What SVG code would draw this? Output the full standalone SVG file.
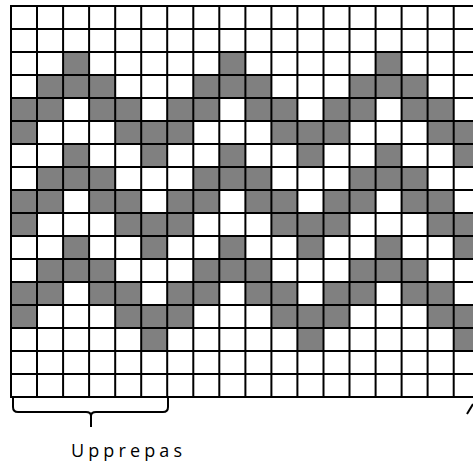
<svg xmlns="http://www.w3.org/2000/svg" xmlns:xlink="http://www.w3.org/1999/xlink" width="473" height="463" viewBox="0 0 473 463">
<style>
.g{fill:#808080}
.ln{stroke:#000;stroke-width:2;fill:none}
.br{stroke:#000;stroke-width:2;fill:none;stroke-linejoin:round}
.t{font-family:"Open Sans","DejaVu Sans",sans-serif;font-size:18px;fill:#000}
</style>
<defs>
<rect id="c" class="g" width="26.04" height="23"/>
<g id="rA"><use xlink:href="#c" x="37"/><use xlink:href="#c" x="63.1"/><use xlink:href="#c" x="89.1"/><use xlink:href="#c" x="193.3"/><use xlink:href="#c" x="219.3"/><use xlink:href="#c" x="245.4"/><use xlink:href="#c" x="349.5"/><use xlink:href="#c" x="375.6"/><use xlink:href="#c" x="401.6"/></g>
<g id="rB"><use xlink:href="#c" x="11"/><use xlink:href="#c" x="37"/><use xlink:href="#c" x="89.1"/><use xlink:href="#c" x="115.2"/><use xlink:href="#c" x="167.2"/><use xlink:href="#c" x="193.3"/><use xlink:href="#c" x="245.4"/><use xlink:href="#c" x="271.4"/><use xlink:href="#c" x="323.5"/><use xlink:href="#c" x="349.5"/><use xlink:href="#c" x="401.6"/><use xlink:href="#c" x="427.6"/></g>
<g id="rC"><use xlink:href="#c" x="11"/><use xlink:href="#c" x="115.2"/><use xlink:href="#c" x="141.2"/><use xlink:href="#c" x="167.2"/><use xlink:href="#c" x="271.4"/><use xlink:href="#c" x="297.4"/><use xlink:href="#c" x="323.5"/><use xlink:href="#c" x="427.6"/><use xlink:href="#c" x="453.7"/></g>
<g id="rD"><use xlink:href="#c" x="63.1"/><use xlink:href="#c" x="141.2"/><use xlink:href="#c" x="219.3"/><use xlink:href="#c" x="297.4"/><use xlink:href="#c" x="375.6"/><use xlink:href="#c" x="453.7"/></g>
</defs>
<g id="cells">
<use xlink:href="#c" x="63.1" y="52"/><use xlink:href="#c" x="219.3" y="52"/><use xlink:href="#c" x="375.6" y="52"/>
<use xlink:href="#rA" y="75"/>
<use xlink:href="#rB" y="98"/>
<use xlink:href="#rC" y="121"/>
<use xlink:href="#rD" y="144"/>
<use xlink:href="#rA" y="167"/>
<use xlink:href="#rB" y="190"/>
<use xlink:href="#rC" y="213"/>
<use xlink:href="#rD" y="236"/>
<use xlink:href="#rA" y="259"/>
<use xlink:href="#rB" y="282"/>
<use xlink:href="#rC" y="305"/>
<use xlink:href="#c" x="141.2" y="328"/><use xlink:href="#c" x="297.4" y="328"/><use xlink:href="#c" x="453.7" y="328"/>
</g>
<g id="grid">
<path class="ln" d="M11,6V397M37,6V397M63.1,6V397M89.1,6V397M115.2,6V397M141.2,6V397M167.2,6V397M193.3,6V397M219.3,6V397M245.4,6V397M271.4,6V397M297.4,6V397M323.5,6V397M349.5,6V397M375.6,6V397M401.6,6V397M427.6,6V397M453.7,6V397"/>
<path class="ln" d="M10,6H473M10,29H473M10,52H473M10,75H473M10,98H473M10,121H473M10,144H473M10,167H473M10,190H473M10,213H473M10,236H473M10,259H473M10,282H473M10,305H473M10,328H473M10,351H473M10,374H473M10,397H473"/>
</g>
<g id="brace">
<path class="br" d="M13,398V407Q13,412 18,412H86Q91,412 91,416V427M91,416Q91,412 96,412H163Q168,412 168,407V398"/>
<path class="br" d="M467,414L473,404"/>
</g>
<text class="t" x="71" y="457" textLength="111" lengthAdjust="spacing">Upprepas</text>
</svg>
